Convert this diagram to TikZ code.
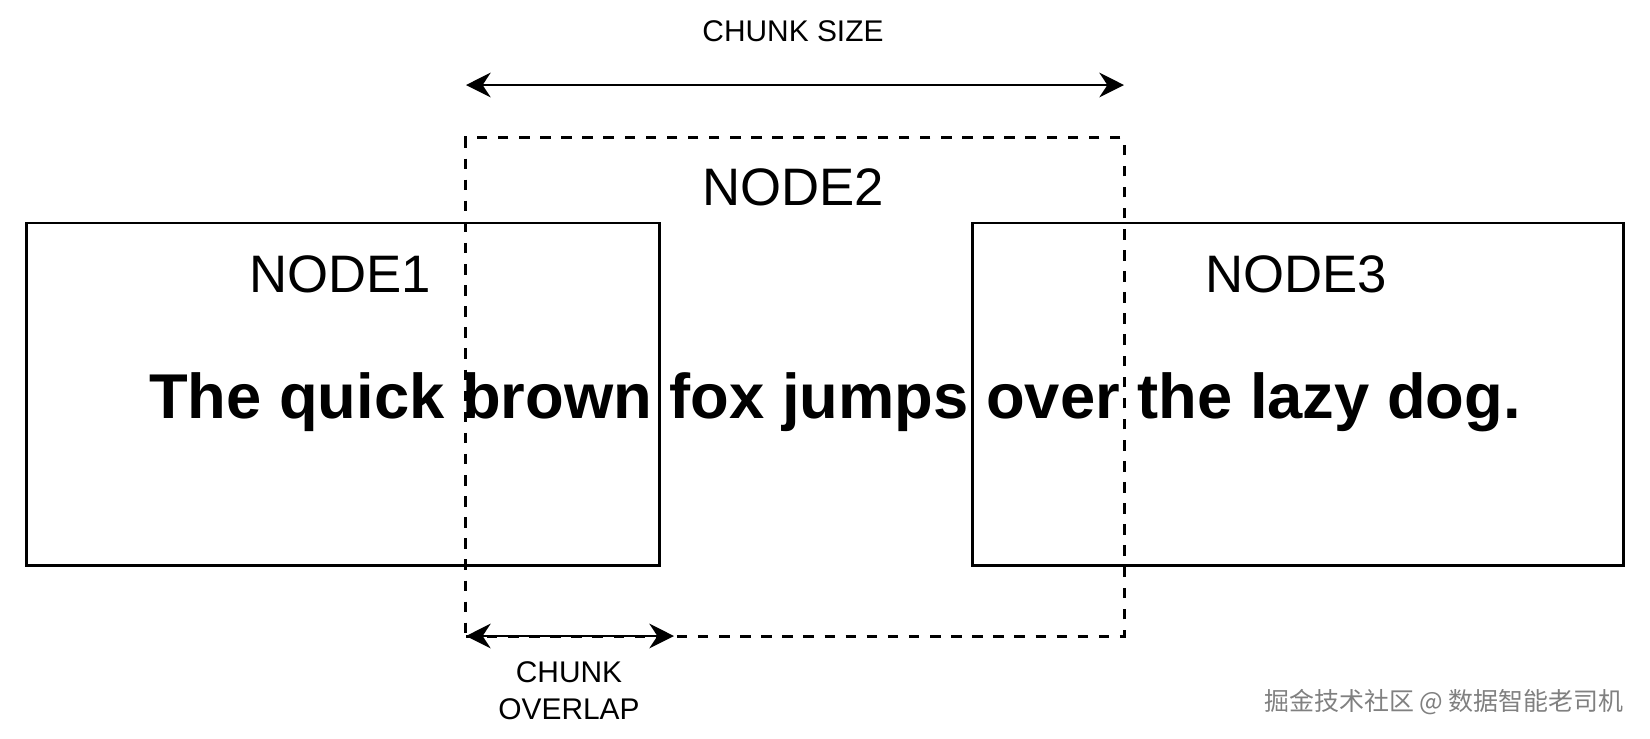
\documentclass[tikz,border=0pt]{standalone}
\usepackage{fontspec}
\setmainfont{Liberation Sans}
\newfontfamily\cjk{Noto Sans CJK SC}
\usetikzlibrary{arrows.meta}
\tikzset{
 box/.style={draw,line width=0.8pt,inner sep=0pt},
 dim/.style={line width=0.8pt,{Stealth[length=7pt,width=7pt]}-{Stealth[length=7pt,width=7pt]}},
 lbl/.style={font=\fontsize{15}{15}\selectfont},
 small/.style={font=\fontsize{8.5}{10.5}\selectfont,align=center}
}
\begin{document}
\begin{tikzpicture}[x=0.01cm,y=-0.01cm]
\useasboundingbox (0,0) rectangle (1650,738);
\node[box,minimum width=6.32cm,minimum height=3.42cm] (n1) at (343,394) {};
\node[box,dashed,minimum width=6.58cm,minimum height=4.98cm] (n2) at (795,387) {};
\node[box,minimum width=6.50cm,minimum height=3.42cm] (n3) at (1298,394) {};
\node[lbl] (t1) at (340,274) {NODE1};
\node[lbl] (t2) at (793,187) {NODE2};
\node[lbl] (t3) at (1296,274) {NODE3};
\node[font=\fontsize{18}{18}\bfseries\selectfont] (s) at (835,402) {The quick brown fox jumps over the lazy dog.};
% dimensions
\coordinate (a1) at (466,85);
\coordinate (a2) at (1124,85);
\draw[dim] (a1) -- (a2);
\node[small] (cs) at (793,31) {CHUNK SIZE};
\coordinate (b1) at (466,636);
\coordinate (b2) at (674,636);
\draw[dim] (b1) -- (b2);
\node[small] (co) at (569,691) {CHUNK\\OVERLAP};
\node[gray,font=\cjk\fontsize{7.1}{7.1}\selectfont,anchor=east] (wm) at (1636,702) {掘金技术社区 @ 数据智能老司机};
\end{tikzpicture}
\end{document}
